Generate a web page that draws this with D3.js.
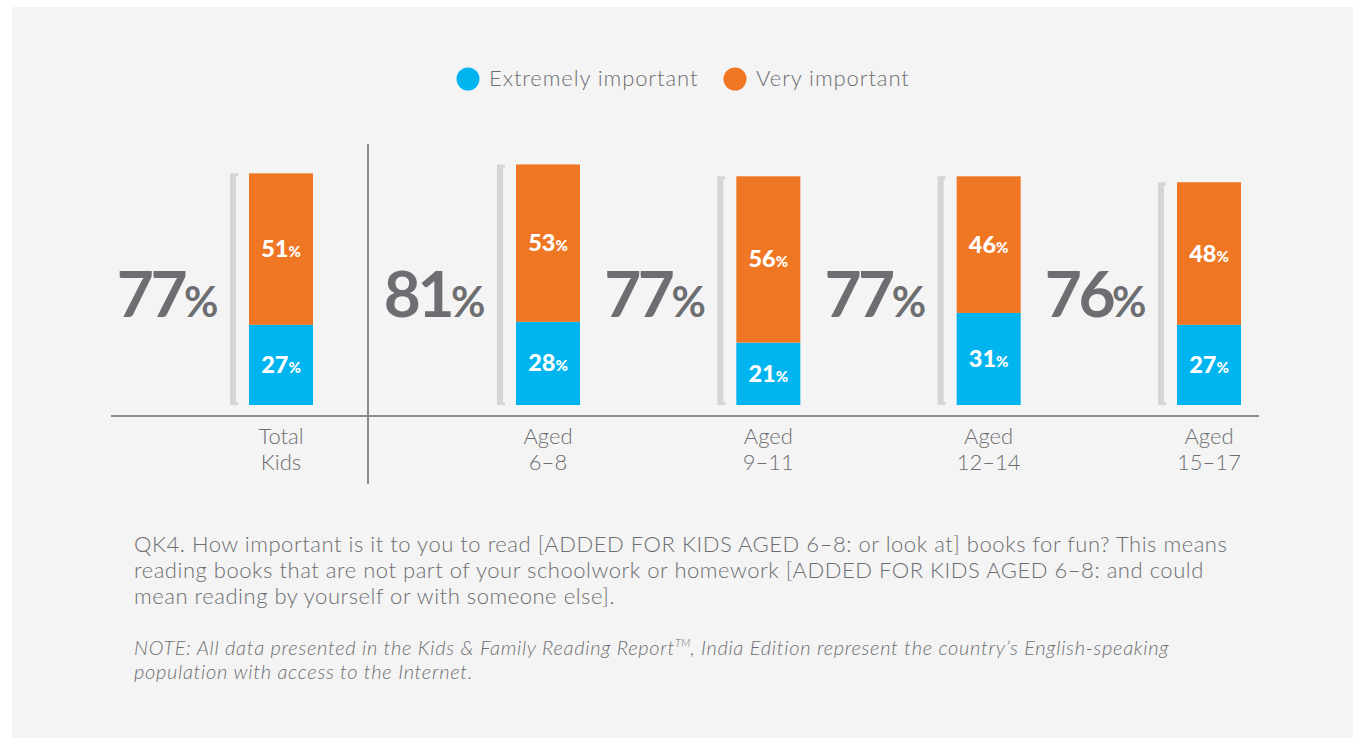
<!DOCTYPE html>
<html><head><meta charset="utf-8">
<script src="https://cdn.jsdelivr.net/npm/d3@7"></script>
<style>
html,body{margin:0;padding:0;background:#fff;}
svg{display:block;}
</style></head>
<body>
<svg id="chart" width="1353" height="738"></svg>
<script>
const categories = ["Total Kids", "Aged 6–8", "Aged 9–11", "Aged 12–14", "Aged 15–17"];
const labelLines = [["Total","Kids"],["Aged","6–8"],["Aged","9–11"],["Aged","12–14"],["Aged","15–17"]];
const extremely = [27, 28, 21, 31, 27];
const very = [51, 53, 56, 46, 48];
const totals = [77, 81, 77, 77, 76];
const seriesNames = ["Extremely important", "Very important"];
const colors = ["#00b5ef", "#ef7723"];
const footLines = [
  "QK4. How important is it to you to read [ADDED FOR KIDS AGED 6–8: or look at] books for fun? This means",
  "reading books that are not part of your schoolwork or homework [ADDED FOR KIDS AGED 6–8: and could",
  "mean reading by yourself or with someone else]."
];

const svg = d3.select("#chart");
const gray = "#6d6e71";
const font = "Lato, 'Open Sans', sans-serif";

svg.append("rect").attr("x",12).attr("y",7).attr("width",1353-12).attr("height",738-7).attr("fill","#f4f4f4");

const y = d3.scaleLinear().domain([0,100]).range([405,108]);
const xAges = d3.scalePoint().domain(categories.slice(1)).range([548,1209]);
const barW = 64;
const cx = (c,i) => i===0 ? 281 : xAges(c);

const data = categories.map((c,i)=>({c,i,e:extremely[i],v:very[i],t:totals[i],cx:cx(c,i)}));

// axis line
svg.append("line").attr("x1",111).attr("x2",1259).attr("y1",416).attr("y2",416)
  .attr("stroke","#8c8c8c").attr("stroke-width",2);
// divider
svg.append("line").attr("x1",368).attr("x2",368).attr("y1",144).attr("y2",484)
  .attr("stroke","#8c8c8c").attr("stroke-width",2);

const g = svg.selectAll("g.cat").data(data).join("g").attr("class","cat");

// brackets
g.append("path")
  .attr("d", d=>{
    const x0 = d.cx - barW/2 - 19, top = y(d.e+d.v), bot = y(0);
    return `M${x0+8},${top} H${x0} V${bot} H${x0+8} V${bot-3} H${x0+6} V${top+3} H${x0+8} Z`;
  })
  .attr("fill","#d4d5d7");

// bars
g.append("rect").attr("x",d=>d.cx-barW/2).attr("width",barW)
  .attr("y",d=>y(d.e)).attr("height",d=>y(0)-y(d.e)).attr("fill",colors[0]);
g.append("rect").attr("x",d=>d.cx-barW/2).attr("width",barW)
  .attr("y",d=>y(d.e+d.v)).attr("height",d=>y(d.e)-y(d.e+d.v)).attr("fill",colors[1]);

function pctLabel(sel, val, size, pctSize){
  sel.append("tspan").text(val).attr("font-size",size);
  sel.append("tspan").text("%").attr("font-size",pctSize);
}

// segment labels
g.append("text").attr("x",d=>d.cx).attr("y",d=>(y(0)+y(d.e))/2+8)
  .attr("text-anchor","middle").attr("fill","#fff").attr("font-family",font).attr("font-weight",900)
  .each(function(d){ pctLabel(d3.select(this), d.e, 23.5, 15); });
g.append("text").attr("x",d=>d.cx).attr("y",d=>(y(d.e)+y(d.e+d.v))/2+8)
  .attr("text-anchor","middle").attr("fill","#fff").attr("font-family",font).attr("font-weight",900)
  .each(function(d){ pctLabel(d3.select(this), d.v, 23.5, 15); });

// big totals
g.append("text").attr("x",d=>d.cx-barW/2-34).attr("y",317)
  .attr("text-anchor","end").attr("fill",gray).attr("font-family",font).attr("font-weight",700)
  .attr("letter-spacing",-3.5)
  .each(function(d){ pctLabel(d3.select(this), d.t, 64, 42); });

// category labels
g.each(function(d){
  const t = d3.select(this).append("text").attr("text-anchor","middle").attr("fill",gray)
    .attr("font-family",font).attr("font-weight",300).attr("font-size",22);
  labelLines[d.i].forEach((l,k)=>t.append("tspan").attr("x",d.cx).attr("y",444+k*26).text(l));
});

// legend
const lx = [468, 735];
seriesNames.forEach((s,i)=>{
  svg.append("circle").attr("cx",lx[i]).attr("cy",79).attr("r",11.5).attr("fill",colors[i]);
  svg.append("text").attr("x",lx[i]+21).attr("y",86).attr("fill",gray).attr("font-family",font)
    .attr("font-weight",300).attr("font-size",22).attr("letter-spacing",0.9).text(s);
});

// footnote
const ft = svg.append("text").attr("fill",gray).attr("font-family",font).attr("font-weight",300)
  .attr("font-size",22).attr("letter-spacing",0.53);
footLines.forEach((l,k)=>ft.append("tspan").attr("x",134).attr("y",552+k*26).text(l));

const nt = svg.append("text").attr("fill",gray).attr("font-family",font).attr("font-style","italic")
  .attr("font-weight",300).attr("font-size",20).attr("letter-spacing",0.7);
nt.append("tspan").attr("x",134).attr("y",655).text("NOTE: All data presented in the Kids & Family Reading Report");
nt.append("tspan").attr("font-size",11).attr("dy",-8).attr("letter-spacing",0).text("TM");
nt.append("tspan").attr("dy",8).text(", India Edition represent the country’s English-speaking");
nt.append("tspan").attr("x",134).attr("y",679).text("population with access to the Internet.");
</script>
</body></html>
